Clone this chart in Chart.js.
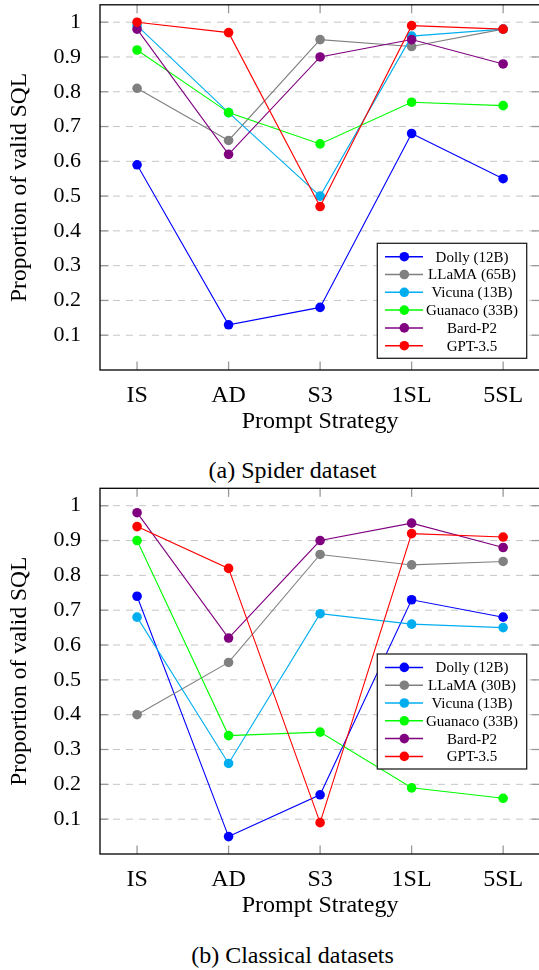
<!DOCTYPE html>
<html>
<head>
<meta charset="utf-8">
<script src="https://cdn.jsdelivr.net/npm/chart.js@4.4.0/dist/chart.umd.min.js"></script>
<style>
  html, body { margin: 0; padding: 0; background: #fff; overflow: hidden; width: 539px; height: 970px; }
  canvas { position: absolute; left: 0; }
  #spider { top: 0; }
  #classical { top: 480px; }
  .cap { position: absolute; left: 0; width: 585px; text-align: center; font-family: 'Liberation Serif'; font-size: 24px; color: #000; line-height: normal; }
</style>
</head>
<body>
<canvas id="spider" width="545" height="440"></canvas>
<div class="cap" style="top:457px">(a) Spider dataset</div>
<canvas id="classical" width="545" height="444"></canvas>
<div class="cap" style="top:942px">(b) Classical datasets</div>
<script>
const strategies = ['IS', 'AD', 'S3', '1SL', '5SL'];

const spiderModels = ['Dolly (12B)', 'LLaMA (65B)', 'Vicuna (13B)', 'Guanaco (33B)', 'Bard-P2', 'GPT-3.5'];
const spiderDolly   = [0.59, 0.13, 0.18, 0.68, 0.55];
const spiderLlama   = [0.81, 0.66, 0.95, 0.93, 0.98];
const spiderVicuna  = [0.99, 0.74, 0.50, 0.96, 0.98];
const spiderGuanaco = [0.92, 0.74, 0.65, 0.77, 0.76];
const spiderBard    = [0.98, 0.62, 0.90, 0.95, 0.88];
const spiderGpt     = [1.00, 0.97, 0.47, 0.99, 0.98];

const classicalModels = ['Dolly (12B)', 'LLaMA (30B)', 'Vicuna (13B)', 'Guanaco (33B)', 'Bard-P2', 'GPT-3.5'];
const classicalDolly   = [0.74, 0.05, 0.17, 0.73, 0.68];
const classicalLlama   = [0.40, 0.55, 0.86, 0.83, 0.84];
const classicalVicuna  = [0.68, 0.26, 0.69, 0.66, 0.65];
const classicalGuanaco = [0.90, 0.34, 0.35, 0.19, 0.16];
const classicalBard    = [0.98, 0.62, 0.90, 0.95, 0.88];
const classicalGpt     = [0.94, 0.82, 0.09, 0.92, 0.91];

const yTicks = [0.1, 0.2, 0.3, 0.4, 0.5, 0.6, 0.7, 0.8, 0.9, 1];

const colors = ['#0000ff', '#808080', '#00aeef', '#00ff00', '#800080', '#ff0000'];
const serif = 'Liberation Serif';

// grid, tick marks and the frame, like pgfplots draws them
const framePlugin = {
    id: 'frame',
    beforeDatasetsDraw(chart) {
        const ctx = chart.ctx;
        const a = chart.chartArea;
        const x = chart.scales.x, y = chart.scales.y;
        ctx.save();
        ctx.setLineDash([7, 6]);
        ctx.strokeStyle = '#c6c6c6';
        ctx.lineWidth = 1;
        yTicks.forEach(v => {
            const py = y.getPixelForValue(v);
            ctx.beginPath(); ctx.moveTo(a.left, py); ctx.lineTo(a.right, py); ctx.stroke();
        });
        ctx.setLineDash([]);
        ctx.strokeStyle = '#999';
        ctx.lineWidth = 1.3;
        yTicks.forEach(v => {
            const py = y.getPixelForValue(v);
            ctx.beginPath(); ctx.moveTo(a.left, py); ctx.lineTo(a.left + 8.5, py); ctx.stroke();
            ctx.beginPath(); ctx.moveTo(a.right - 8.5, py); ctx.lineTo(a.right, py); ctx.stroke();
        });
        strategies.forEach((s, i) => {
            const px = x.getPixelForValue(i);
            ctx.beginPath(); ctx.moveTo(px, a.bottom); ctx.lineTo(px, a.bottom - 8.5); ctx.stroke();
            ctx.beginPath(); ctx.moveTo(px, a.top); ctx.lineTo(px, a.top + 8.5); ctx.stroke();
        });
        ctx.restore();
    },
    afterDatasetsDraw(chart) {
        const ctx = chart.ctx;
        const a = chart.chartArea;
        ctx.save();
        ctx.strokeStyle = '#000';
        ctx.lineWidth = 1.3;
        ctx.strokeRect(a.left, a.top, a.right - a.left, a.bottom - a.top);
        ctx.restore();
    }
};

// legend box inside the plot
const boxLegend = {
    id: 'boxLegend',
    afterDraw(chart, args, opts) {
        const ctx = chart.ctx;
        const left = opts.left, top = opts.top;
        const w = 149.4, h = 115;
        ctx.save();
        ctx.fillStyle = '#fff';
        ctx.fillRect(left, top, w, h);
        ctx.strokeStyle = '#222';
        ctx.lineWidth = 1.3;
        ctx.strokeRect(left, top, w, h);
        chart.data.datasets.forEach((ds, i) => {
            const ry = top + 13.4 + i * 17.8;
            ctx.strokeStyle = ds.borderColor;
            ctx.lineWidth = 1.5;
            ctx.beginPath(); ctx.moveTo(left + 7.7, ry); ctx.lineTo(left + 45.7, ry); ctx.stroke();
            ctx.fillStyle = ds.backgroundColor;
            ctx.beginPath(); ctx.arc(left + 27, ry, 4.8, 0, Math.PI * 2); ctx.fill();
            ctx.fillStyle = '#000';
            ctx.font = '15px "' + serif + '"';
            ctx.textAlign = 'center';
            ctx.textBaseline = 'middle';
            ctx.fillText(ds.label, left + 94.7, ry + 1);
        });
        ctx.restore();
    }
};

function makeDatasets(models, series) {
    return series.map((vals, i) => ({
        label: models[i],
        data: vals.map((v, j) => ({x: j, y: v})),
        borderColor: colors[i],
        backgroundColor: colors[i],
        borderWidth: 1.1,
        pointRadius: 4.8,
        pointBorderWidth: 0,
        tension: 0,
        order: 10 - i
    }));
}

function createLineChart(id, models, series, padTop, legendPos) {
    return new Chart(document.getElementById(id), {
        type: 'line',
        data: { datasets: makeDatasets(models, series) },
        options: {
            responsive: false,
            animation: false,
            layout: { padding: { top: padTop, right: 4, left: 0, bottom: 0 } },
            scales: {
                x: {
                    type: 'linear',
                    min: -0.405,
                    max: 4.405,
                    grid: { display: false },
                    border: { display: false },
                    ticks: {
                        stepSize: 1,
                        includeBounds: false,
                        autoSkip: false,
                        maxRotation: 0,
                        padding: 3,
                        color: '#000',
                        font: { family: serif, size: 24 },
                        callback: v => strategies[v] || ''
                    },
                    title: {
                        display: true,
                        text: 'Prompt Strategy',
                        color: '#000',
                        font: { family: serif, size: 24 },
                        padding: { top: 0, bottom: 4 }
                    },
                    afterFit: s => { s.height = 70; s.paddingLeft = 0; s.paddingRight = 0; }
                },
                y: {
                    min: 0,
                    max: 1.05,
                    grid: { display: false },
                    border: { display: false },
                    ticks: {
                        stepSize: 0.1,
                        includeBounds: false,
                        padding: 11,
                        color: '#000',
                        font: { family: serif, size: 22 },
                        callback: v => (v === 0 ? '' : String(Math.round(v * 10) / 10))
                    },
                    title: {
                        display: true,
                        text: 'Proportion of valid SQL',
                        color: '#000',
                        font: { family: serif, size: 23.5 },
                        padding: { top: 6, bottom: 0 }
                    },
                    afterFit: s => { s.width = 100; s.paddingTop = 0; s.paddingBottom = 0; }
                }
            },
            plugins: {
                legend: { display: false },
                tooltip: { enabled: false },
                boxLegend: legendPos
            }
        },
        plugins: [framePlugin, boxLegend]
    });
}

createLineChart('spider', spiderModels,
    [spiderDolly, spiderLlama, spiderVicuna, spiderGuanaco, spiderBard, spiderGpt],
    4.3, { left: 377.3, top: 243.3 });

createLineChart('classical', classicalModels,
    [classicalDolly, classicalLlama, classicalVicuna, classicalGuanaco, classicalBard, classicalGpt],
    8.3, { left: 377.3, top: 174 });
</script>
</body>
</html>
